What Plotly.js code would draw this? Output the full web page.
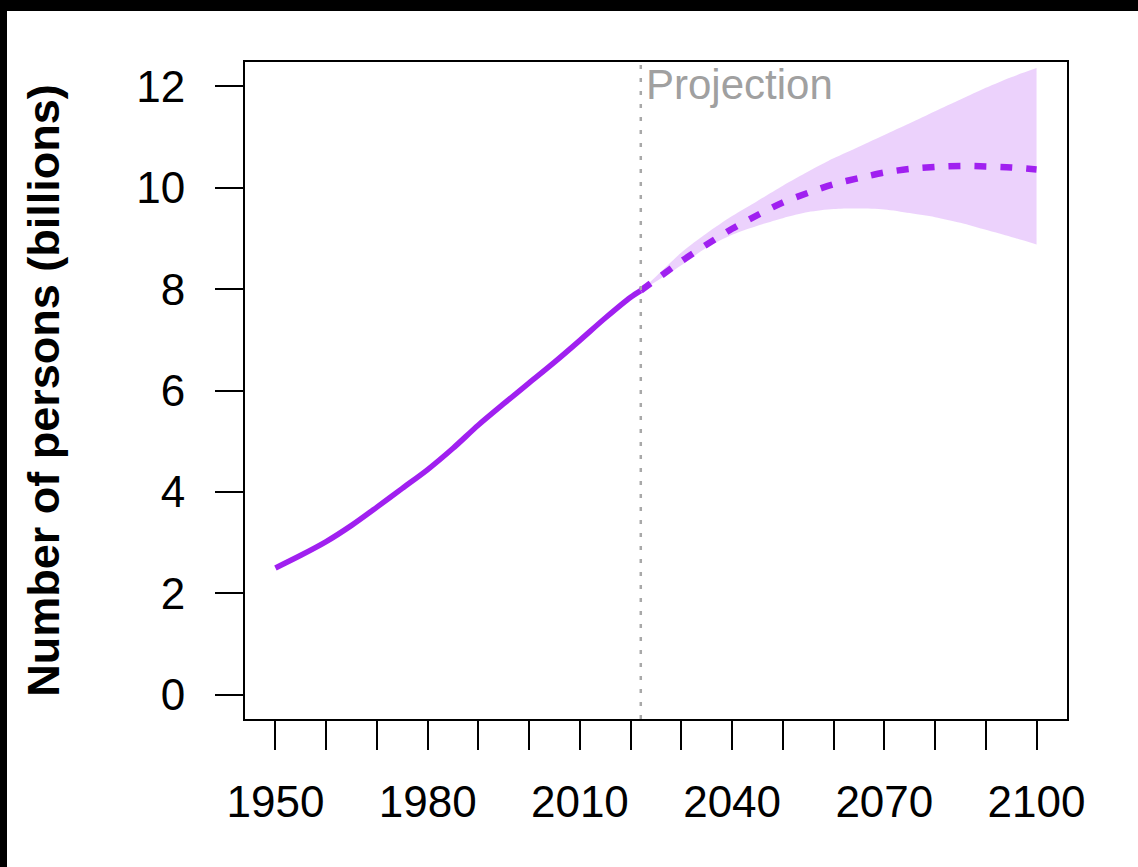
<!DOCTYPE html>
<html>
<head>
<meta charset="utf-8">
<script src="https://cdn.plot.ly/plotly-3.0.1.min.js"></script>
<style>
html,body{margin:0;padding:0;background:#fff;}
#wrap{position:relative;width:1138px;height:867px;overflow:hidden;}
#chart{position:absolute;left:0;top:0;width:1138px;height:867px;}
.bar{position:absolute;background:#000;}
</style>
</head>
<body>
<div id="wrap">
<div id="chart"></div>
<div class="bar" style="left:0;top:0;width:1138px;height:11px;"></div>
<div class="bar" style="left:0;top:0;width:7px;height:867px;"></div>
</div>
<script>
// Historical estimates (billions)
const histYears = [1950,1955,1960,1965,1970,1975,1980,1985,1990,1995,2000,2005,2010,2015,2020,2022];
const histValues = [2.50,2.75,3.02,3.34,3.70,4.07,4.44,4.86,5.32,5.74,6.15,6.56,6.99,7.43,7.84,7.97];

// Projection (median and 95% interval)
const projYears = [2022,2025,2030,2035,2040,2045,2050,2055,2060,2065,2070,2075,2080,2085,2090,2095,2100];
const projMedian = [7.97,8.19,8.55,8.88,9.19,9.46,9.71,9.90,10.07,10.19,10.30,10.37,10.41,10.43,10.42,10.40,10.36];
const projUpper  = [7.97,8.25,8.72,9.10,9.44,9.74,10.04,10.32,10.58,10.81,11.04,11.27,11.51,11.74,11.97,12.18,12.36];
const projLower  = [7.97,8.15,8.47,8.82,9.07,9.25,9.40,9.52,9.58,9.59,9.57,9.50,9.42,9.31,9.17,9.03,8.88];

const xTickVals = [1950,1960,1970,1980,1990,2000,2010,2020,2030,2040,2050,2060,2070,2080,2090,2100];
const xTickText = ['1950','','','1980','','','2010','','','2040','','','2070','','','2100'];
const yTickVals = [0,2,4,6,8,10,12];
const projectionStart = 2022;

const purple = '#a020f0';

const traces = [
  {
    x: projYears, y: projLower, type: 'scatter', mode: 'lines',
    line: {width: 0, color: 'rgba(0,0,0,0)', shape: 'spline', smoothing: 0.8},
    hoverinfo: 'skip', showlegend: false
  },
  {
    x: projYears, y: projUpper, type: 'scatter', mode: 'lines', fill: 'tonexty',
    fillcolor: 'rgba(160,32,240,0.2)',
    line: {width: 0, color: 'rgba(0,0,0,0)', shape: 'spline', smoothing: 0.8},
    hoverinfo: 'skip', showlegend: false
  },
  {
    x: histYears, y: histValues, type: 'scatter', mode: 'lines',
    line: {color: purple, width: 5.5, shape: 'spline', smoothing: 0.8}, showlegend: false
  },
  {
    x: projYears, y: projMedian, type: 'scatter', mode: 'lines',
    line: {color: purple, width: 6.5, dash: '12px,14px', shape: 'spline', smoothing: 0.8}, showlegend: false
  }
];

const font = 'Liberation Sans, Arial, sans-serif';

const layout = {
  width: 1138, height: 867,
  margin: {l: 245, r: 71, t: 62, b: 148},
  paper_bgcolor: '#fff', plot_bgcolor: '#fff',
  showlegend: false,
  font: {family: font, color: '#000'},
  xaxis: {
    range: [1944, 2106], showgrid: false, zeroline: false,
    showline: true, mirror: true, linecolor: '#000', linewidth: 2,
    ticks: 'outside', ticklen: 29, tickwidth: 2, tickcolor: '#000',
    tickvals: xTickVals, ticktext: xTickText,
    tickfont: {size: 44, family: font, color: '#000'},
    ticklabelstandoff: 14
  },
  yaxis: {
    range: [-0.48, 12.48], showgrid: false, zeroline: false,
    showline: true, mirror: true, linecolor: '#000', linewidth: 2,
    ticks: 'outside', ticklen: 28, tickwidth: 2, tickcolor: '#000',
    tickvals: yTickVals,
    tickfont: {size: 44, family: font, color: '#000'},
    ticklabelstandoff: 21,
    title: {text: '<b>Number of persons (billions)</b>', font: {size: 45, family: font, color: '#000'}, standoff: 62}
  },
  shapes: [
    {type: 'line', xref: 'x', yref: 'paper', x0: projectionStart, x1: projectionStart, y0: 0, y1: 1,
     line: {color: '#a8a8a8', width: 2.5, dash: '4px,9px'}}
  ],
  annotations: [
    {x: projectionStart, y: 12.04, xref: 'x', yref: 'y', text: 'Projection', showarrow: false,
     xanchor: 'left', yanchor: 'middle', xshift: 3,
     font: {size: 42, family: font, color: '#a0a0a0'}}
  ]
};

Plotly.newPlot('chart', traces, layout, {displayModeBar: false, staticPlot: true});
</script>
</body>
</html>
